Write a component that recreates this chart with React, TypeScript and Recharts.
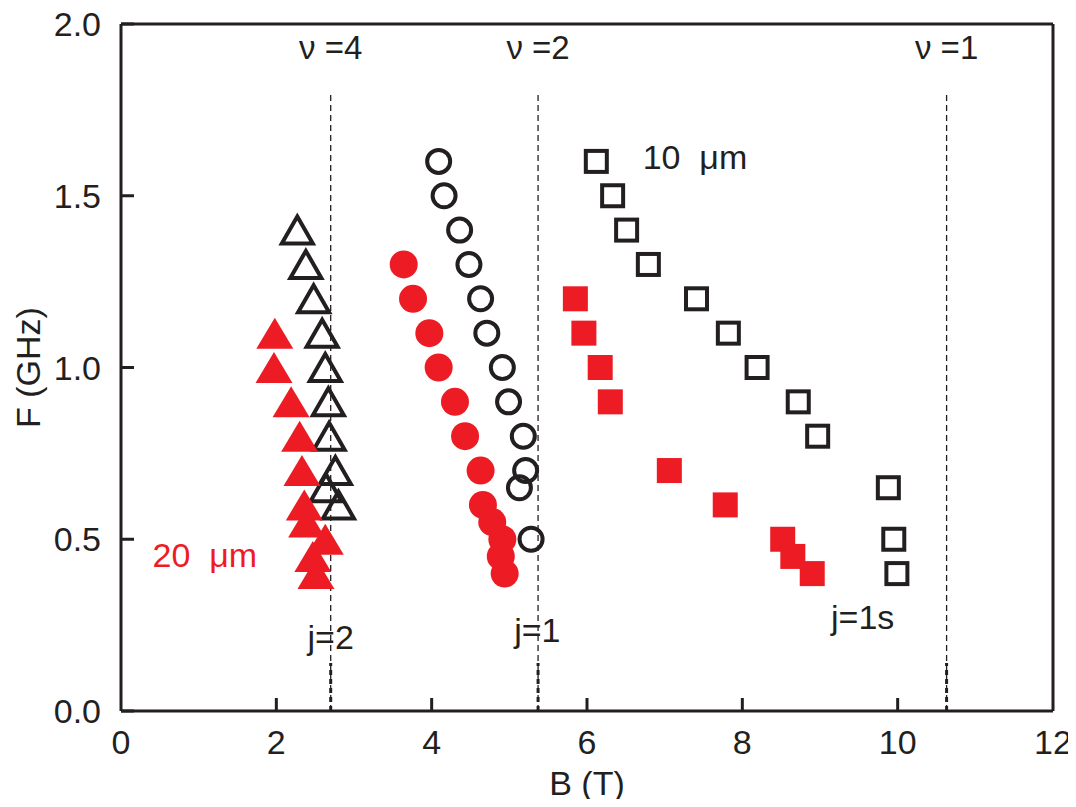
import { ScatterChart, Scatter, XAxis, YAxis, ReferenceLine, ReferenceDot } from 'recharts';

const INK = '#231f20';
const RED = '#ed1c24';
const FONT = '"Liberation Sans", Arial, Helvetica, sans-serif';

// axis ticks
const xTicks = [0, 2, 4, 6, 8, 10, 12];
const yTicks = [0, 0.5, 1.0, 1.5, 2.0];

// open triangles (10 um, j=2)
const triOpenB = [2.27, 2.38, 2.48, 2.59, 2.63, 2.67, 2.68, 2.76, 2.64, 2.8];
const triOpenF = [1.4, 1.3, 1.2, 1.1, 1.0, 0.9, 0.8, 0.7, 0.65, 0.6];

// filled triangles (20 um, j=2)
const triFillB = [1.98, 1.97, 2.19, 2.3, 2.33, 2.36, 2.39, 2.63, 2.47, 2.51];
const triFillF = [1.1, 1.0, 0.9, 0.8, 0.7, 0.6, 0.55, 0.5, 0.45, 0.4];

// open circles (10 um, j=1)
const circOpenB = [4.09, 4.16, 4.36, 4.48, 4.63, 4.71, 4.91, 4.99, 5.18, 5.21, 5.13, 5.28];
const circOpenF = [1.6, 1.5, 1.4, 1.3, 1.2, 1.1, 1.0, 0.9, 0.8, 0.7, 0.65, 0.5];

// filled circles (20 um, j=1)
const circFillB = [3.64, 3.76, 3.97, 4.09, 4.3, 4.43, 4.63, 4.66, 4.78, 4.91, 4.89, 4.94];
const circFillF = [1.3, 1.2, 1.1, 1.0, 0.9, 0.8, 0.7, 0.6, 0.55, 0.5, 0.45, 0.4];

// open squares (10 um, j=1s)
const sqOpenB = [6.12, 6.33, 6.51, 6.79, 7.41, 7.82, 8.19, 8.72, 8.97, 9.88, 9.95, 9.99];
const sqOpenF = [1.6, 1.5, 1.4, 1.3, 1.2, 1.1, 1.0, 0.9, 0.8, 0.65, 0.5, 0.4];

// filled squares (20 um, j=1s)
const sqFillB = [5.85, 5.96, 6.17, 6.3, 7.06, 7.78, 8.52, 8.65, 8.9];
const sqFillF = [1.2, 1.1, 1.0, 0.9, 0.7, 0.6, 0.5, 0.45, 0.4];

// filling factor lines
const nuB = [2.7, 5.37, 10.63];
const nuLabels = ['ν =4', 'ν =2', 'ν =1'];
const lineTop = 1.8;
const lineThickTop = 0.14;

const toPoints = (b: number[], f: number[]) => b.map((x, i) => ({ x, y: f[i] }));

const OpenTriangle = (p: any) => {
  const { cx, cy } = p;
  const w = 15.5, h = 27;
  return (
    <path
      d={`M${cx},${cy - h / 2} L${cx + w},${cy + h / 2} L${cx - w},${cy + h / 2} Z`}
      fill="none"
      stroke={INK}
      strokeWidth={4}
    />
  );
};

const FilledTriangle = (p: any) => {
  const { cx, cy } = p;
  const w = 18.5, h = 31;
  return <path d={`M${cx},${cy - h / 2} L${cx + w},${cy + h / 2} L${cx - w},${cy + h / 2} Z`} fill={RED} />;
};

const OpenCircle = (p: any) => <circle cx={p.cx} cy={p.cy} r={11.5} fill="none" stroke={INK} strokeWidth={4} />;

const FilledCircle = (p: any) => <circle cx={p.cx} cy={p.cy} r={14} fill={RED} />;

const OpenSquare = (p: any) => (
  <rect x={p.cx - 10.5} y={p.cy - 10.5} width={21} height={21} fill="none" stroke={INK} strokeWidth={4} />
);

const FilledSquare = (p: any) => <rect x={p.cx - 12.5} y={p.cy - 12.5} width={25} height={25} fill={RED} />;

const Y_MARGIN = 20;
const X_MARGIN = 18;

const YTick = (p: any) => {
  const { x, y, payload } = p;
  const ax = x + Y_MARGIN;
  return (
    <g>
      <line x1={ax} x2={ax + 13} y1={y} y2={y} stroke={INK} strokeWidth={3} />
      <text x={x} y={y} dy={12} textAnchor="end" fill={INK} fontSize={34} fontFamily={FONT}>
        {payload.value.toFixed(1)}
      </text>
    </g>
  );
};

const XTick = (p: any) => {
  const { x, y, payload } = p;
  const ay = y - X_MARGIN;
  return (
    <g>
      {payload.value > 0 && payload.value < 12 && (
        <line x1={x} x2={x} y1={ay} y2={ay - 13} stroke={INK} strokeWidth={3} />
      )}
      <text x={x} y={y} dy={25} textAnchor="middle" fill={INK} fontSize={34} fontFamily={FONT}>
        {payload.value}
      </text>
    </g>
  );
};

const textLabel = (value: string, color: string, size = 34) => ({
  value,
  position: 'center' as const,
  fill: color,
  fontSize: size,
  fontFamily: FONT,
});

export default function App() {
  return (
    <div style={{ height: 791 }}>
      <ScatterChart width={1068} height={799} margin={{ top: 16, right: 23, bottom: 8, left: 0 }}>
        <XAxis
          type="number"
          dataKey="x"
          domain={[0, 12]}
          ticks={xTicks}
          tickSize={0}
          tickMargin={X_MARGIN}
          tick={<XTick />}
          height={88}
          axisLine={{ stroke: INK, strokeWidth: 3 }}
          tickLine={false}
          label={{ value: 'B (T)', position: 'insideBottom', offset: 4, fill: INK, fontSize: 34, fontFamily: FONT }}
        />
        <YAxis
          type="number"
          dataKey="y"
          domain={[0, 2]}
          ticks={yTicks}
          tickSize={0}
          tickMargin={Y_MARGIN}
          tick={<YTick />}
          width={113}
          axisLine={{ stroke: INK, strokeWidth: 3 }}
          tickLine={false}
          label={{
            value: 'F (GHz)',
            angle: -90,
            position: 'insideLeft',
            offset: 20,
            style: { textAnchor: 'middle' },
            fill: INK,
            fontSize: 34,
            fontFamily: FONT,
          }}
        />
        <ReferenceLine x={12} stroke={INK} strokeWidth={3} />
        <ReferenceLine y={2} stroke={INK} strokeWidth={3} />

        {nuB.map((b) => (
          <ReferenceLine
            key={`thin-${b}`}
            segment={[{ x: b, y: 0 }, { x: b, y: lineTop }]}
            stroke={INK}
            strokeWidth={1.3}
            strokeDasharray="6 4"
          />
        ))}
        {nuB.map((b) => (
          <ReferenceLine
            key={`thick-${b}`}
            segment={[{ x: b, y: 0 }, { x: b, y: lineThickTop }]}
            stroke={INK}
            strokeWidth={3}
            strokeDasharray="5 4"
          />
        ))}

        <Scatter data={toPoints(triOpenB, triOpenF)} shape={<OpenTriangle />} isAnimationActive={false} />
        <Scatter data={toPoints(triFillB, triFillF)} shape={<FilledTriangle />} isAnimationActive={false} />
        <Scatter data={toPoints(circFillB, circFillF)} shape={<FilledCircle />} isAnimationActive={false} />
        <Scatter data={toPoints(circOpenB, circOpenF)} shape={<OpenCircle />} isAnimationActive={false} />
        <Scatter data={toPoints(sqFillB, sqFillF)} shape={<FilledSquare />} isAnimationActive={false} />
        <Scatter data={toPoints(sqOpenB, sqOpenF)} shape={<OpenSquare />} isAnimationActive={false} />

        {nuB.map((b, i) => (
          <ReferenceDot key={`nu-${b}`} x={b} y={1.933} r={0} stroke="none" label={textLabel(nuLabels[i], INK, 33)} />
        ))}
        <ReferenceDot x={7.39} y={1.613} r={0} stroke="none" label={textLabel('10\u00a0\u00a0μm', INK)} />
        <ReferenceDot x={1.08} y={0.454} r={0} stroke="none" label={textLabel('20\u00a0\u00a0μm', RED)} />
        <ReferenceDot x={2.7} y={0.215} r={0} stroke="none" label={textLabel('j=2', INK)} />
        <ReferenceDot x={5.36} y={0.236} r={0} stroke="none" label={textLabel('j=1', INK)} />
        <ReferenceDot x={9.55} y={0.274} r={0} stroke="none" label={textLabel('j=1s', INK)} />
      </ScatterChart>
    </div>
  );
}
